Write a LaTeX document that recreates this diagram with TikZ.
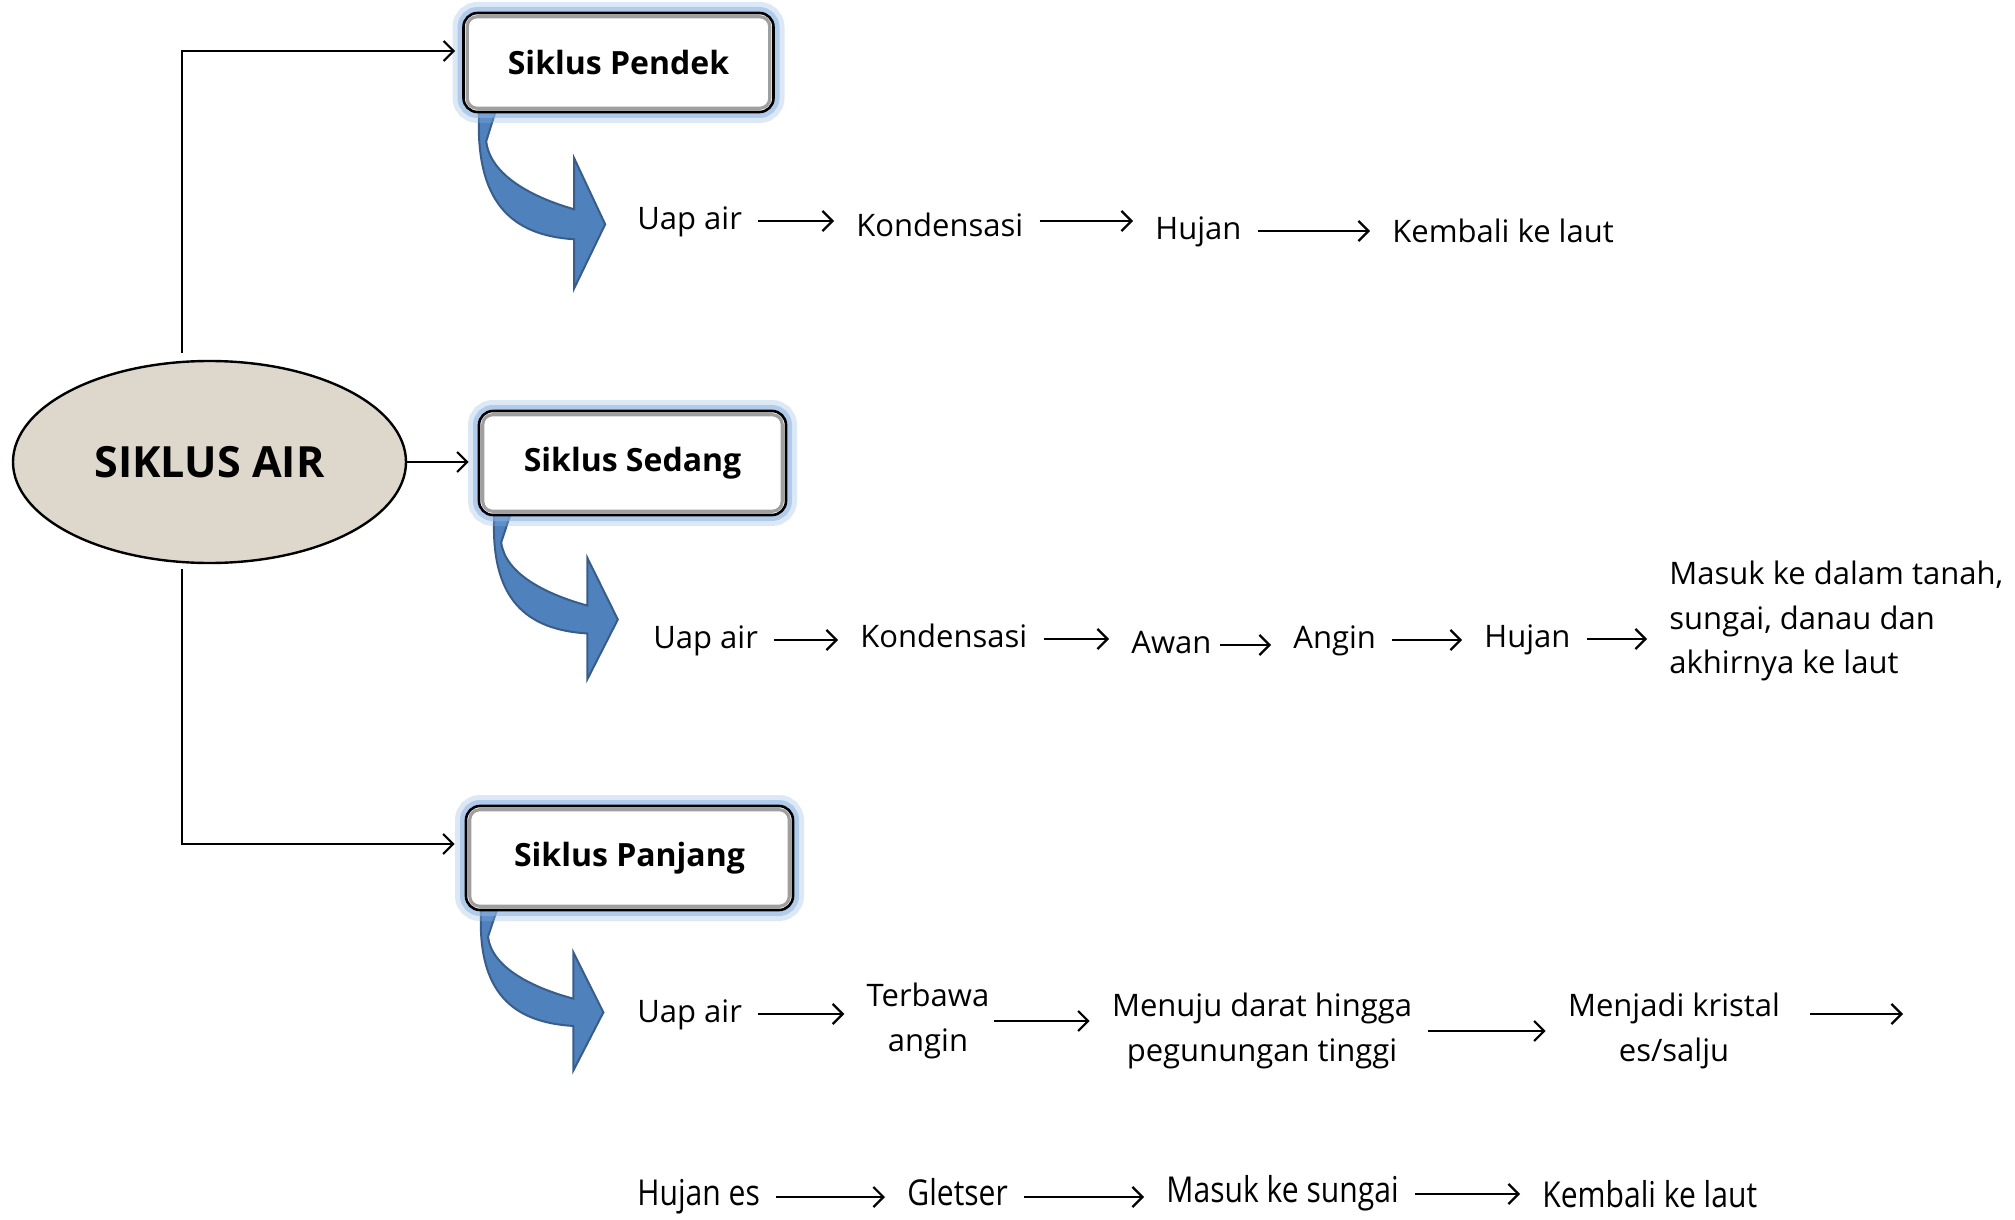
\documentclass[tikz,border=0pt]{standalone}
\usepackage{fontspec}
\setmainfont{Open Sans}
\usetikzlibrary{arrows.meta,shapes.geometric,calc}
\pgfdeclarelayer{background}
\pgfsetlayers{background,main}
\definecolor{beige}{RGB}{222,215,204}
\definecolor{arrowblue}{RGB}{79,129,189}
\definecolor{arrowedge}{RGB}{56,93,138}
\definecolor{glowblue}{RGB}{141,180,226}
\newcommand\tallrow[1]{\scalebox{0.97}[1.15]{#1}}
\begin{document}
\begin{tikzpicture}[x=0.5pt,y=-0.5pt,
  conn/.style={draw=black, line width=1.1pt, -{Straight Barb[length=5pt,width=10pt,line width=1.1pt]}},
  link/.style={conn, shorten <=8pt, shorten >=11pt},
  txt/.style={inner sep=0pt, font=\fontsize{15.5}{22.3}\selectfont, text height=0.88em, text depth=0.06em},
  mtxt/.style={inner sep=0pt, font=\fontsize{15.5}{22.3}\selectfont},
  stagebox/.style={rectangle, rounded corners=7pt, draw=black, line width=1.3pt, fill=white,
    font=\fontsize{16}{19}\selectfont\bfseries,
    preaction={draw=glowblue, line width=11pt, opacity=0.3},
    preaction={draw=glowblue, line width=6pt, opacity=0.55}},
  bluearrow/.pic={
    \filldraw[fill=arrowblue, draw=arrowedge, line width=1pt]
      (17,-4) .. controls (12,90) and (50,122) .. (112,126) -- (112,175) -- (143,111)
      -- (112,45) -- (112,96) .. controls (70,84) and (28,62) .. (24,28) -- (34,-4) -- cycle;
  }]
\useasboundingbox (0,0) rectangle (2015,1220);

% main ellipse
\node[ellipse, draw=black, line width=1.2pt, fill=beige, minimum width=196.5pt, minimum height=101pt,
  font=\fontsize{21.5}{24}\selectfont\bfseries] (ell) at (209.5,462) {SIKLUS AIR};

% stage boxes
\node[stagebox, minimum width=155pt, minimum height=49.5pt] (pendek) at (618.5,62.5) {Siklus Pendek};
\node[stagebox, minimum width=153.5pt, minimum height=52pt] (sedang) at (632.5,463) {Siklus Sedang};
\node[stagebox, minimum width=163.5pt, minimum height=52pt] (panjang) at (629.5,858) {Siklus Panjang};
\foreach \n in {pendek,sedang,panjang}{
  \draw[gray!75, line width=1.6pt, rounded corners=5pt]
    ([shift={(5,5)}]\n.north west) rectangle ([shift={(-5,-5)}]\n.south east);
}

% curved blue arrows
\begin{pgfonlayer}{background}
\pic at (pendek.south west) {bluearrow};
\pic[yscale=0.93, xscale=0.98] at (sedang.south west) {bluearrow};
\pic[yscale=0.91, xscale=0.97] at (panjang.south west) {bluearrow};
\end{pgfonlayer}

% tree connectors
\coordinate (t1) at (182,353);
\coordinate (c1) at (182,51);
\coordinate (t2) at (182,569);
\coordinate (c2) at (182,844);
\draw[conn, shorten >=3.5pt] (t1) -- (c1) -- (pendek.west |- c1);
\draw[conn, shorten >=4.5pt] (ell.east) -- (ell.east -| sedang.west);
\draw[conn, shorten >=5pt] (t2) -- (c2) -- (panjang.west |- c2);

% row 1
\node[txt, anchor=west] (u1) at (637,221) {Uap air};
\node[txt, anchor=west] (k1) at (856,228) {Kondensasi};
\node[txt, anchor=west] (h1) at (1155,231) {Hujan};
\node[txt, anchor=west] (kl1) at (1392,234) {Kembali ke laut};
\draw[link] (u1.east) -- (u1.east -| k1.west);
\draw[link] (k1.east |- u1.east) -- (u1.east -| h1.west);
\draw[link] (h1.east) -- (h1.east -| kl1.west);

% row 2
\node[txt, anchor=west] (u2) at (653,640) {Uap air};
\node[txt, anchor=west] (k2) at (860,639) {Kondensasi};
\node[txt, anchor=west] (a2) at (1131,645) {Awan};
\node[txt, anchor=west] (g2) at (1293,640) {Angin};
\node[txt, anchor=west] (h2) at (1484,639) {Hujan};
\node[mtxt, anchor=west, align=left] (m2) at (1669,621) {Masuk ke dalam tanah,\\sungai, danau dan\\akhirnya ke laut};
\draw[link] (u2.east) -- (u2.east -| k2.west);
\draw[link] (k2.east) -- (k2.east -| a2.west);
\draw[link, shorten <=4pt] (a2.east) -- (a2.east -| g2.west);
\draw[link] (g2.east) -- (g2.east -| h2.west);
\draw[link] (h2.east) -- (h2.east -| m2.west);

% row 3
\node[txt, anchor=west] (u3) at (637,1014) {Uap air};
\node[mtxt, align=center] (t3) at (928,1021) {Terbawa\\angin};
\node[mtxt, align=center] (m3) at (1262,1031) {Menuju darat hingga\\pegunungan tinggi};
\node[mtxt, align=center] (k3) at (1674,1031) {Menjadi kristal\\es/salju};
\coordinate (e3) at (1903,1014);
\draw[link] (u3.east) -- (u3.east -| t3.west);
\draw[link, shorten <=2pt] (t3.east) -- (t3.east -| m3.west);
\draw[link] (m3.east) -- (m3.east -| k3.west);
\draw[conn, shorten <=15pt] (k3.east |- e3) -- (e3);

% row 4
\node[txt, anchor=west] (h4) at (637,1197) {\tallrow{Hujan es}};
\node[txt, anchor=west] (gl4) at (907,1197) {\tallrow{Gletser}};
\node[txt, anchor=west] (ms4) at (1166,1194) {\tallrow{Masuk ke sungai}};
\node[txt, anchor=west] (kb4) at (1542,1199) {\tallrow{Kembali ke laut}};
\draw[link] (h4.east) -- (h4.east -| gl4.west);
\draw[link] (gl4.east) -- (gl4.east -| ms4.west);
\draw[link] (ms4.east) -- (ms4.east -| kb4.west);
\end{tikzpicture}
\end{document}
